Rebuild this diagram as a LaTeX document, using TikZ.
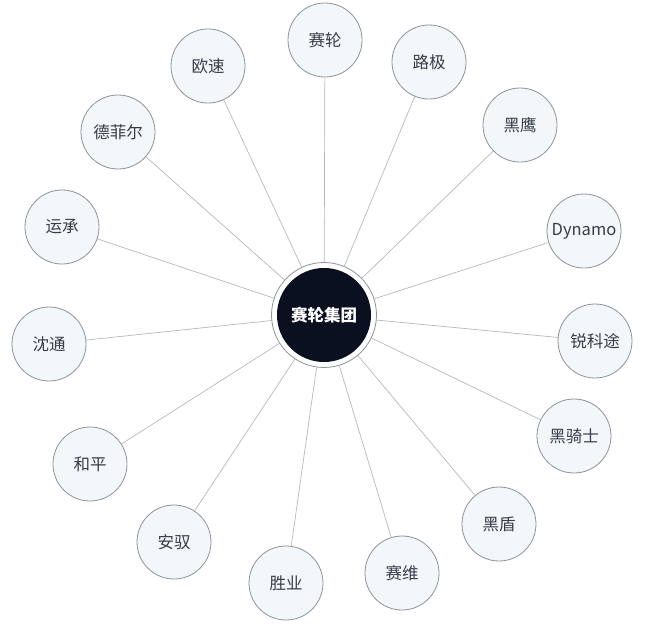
\documentclass[tikz,border=0pt]{standalone}
\usepackage{fontspec}
\setmainfont{Noto Sans CJK SC}
\definecolor{knotenrand}{HTML}{8C939C}
\definecolor{knotenfuell}{HTML}{F4F7F9}
\definecolor{linie}{HTML}{B4B8BD}
\definecolor{schrift}{HTML}{363D4A}
\definecolor{kern}{HTML}{0B1020}
\begin{document}
\begin{tikzpicture}[x=1pt,y=-1pt,
		marke/.style={circle,draw=knotenrand,line width=0.8pt,fill=knotenfuell,minimum size=74pt,inner sep=0pt,text=schrift,font=\fontsize{16.5}{19}\selectfont},
		ring/.style={circle,draw=knotenrand,line width=0.8pt,fill=white,minimum size=105pt,inner sep=0pt},
		kernknoten/.style={circle,fill=kern,minimum size=94pt,inner sep=0pt,text=white,font=\fontsize{16.5}{19}\selectfont\bfseries},
		verbindung/.style={draw=linie,line width=0.7pt}]
	\useasboundingbox (0,0) rectangle (650,624);
	% Mitte
	\node[ring] (ring) at (324,315) {};
	\node[kernknoten] (zentrum) at (ring.center) {赛轮集团};
	% Marken im Uhrzeigersinn, oben beginnend
	\node[marke] (sailun) at (325,40) {赛轮};
	\node[marke] (luji) at (429,62) {路极};
	\node[marke] (heiying) at (520,125) {黑鹰};
	\node[marke] (dynamo) at (584,231) {Dynamo};
	\node[marke] (ruiketu) at (595,341) {锐科途};
	\node[marke] (heiqishi) at (574,436) {黑骑士};
	\node[marke] (heidun) at (499,524) {黑盾};
	\node[marke] (saiwei) at (402,573) {赛维};
	\node[marke] (shengye) at (286,583) {胜业};
	\node[marke] (anyu) at (174,542) {安驭};
	\node[marke] (heping) at (90,464) {和平};
	\node[marke] (shentong) at (49,344) {沈通};
	\node[marke] (yuncheng) at (62,227) {运承};
	\node[marke] (defeier) at (118,132) {德菲尔};
	\node[marke] (ousu) at (208,66) {欧速};
	% Verbindungen
	\foreach \m in {sailun,luji,heiying,dynamo,ruiketu,heiqishi,heidun,saiwei,shengye,anyu,heping,shentong,yuncheng,defeier,ousu}
		\draw[verbindung] (ring) -- (\m);
\end{tikzpicture}
\end{document}
